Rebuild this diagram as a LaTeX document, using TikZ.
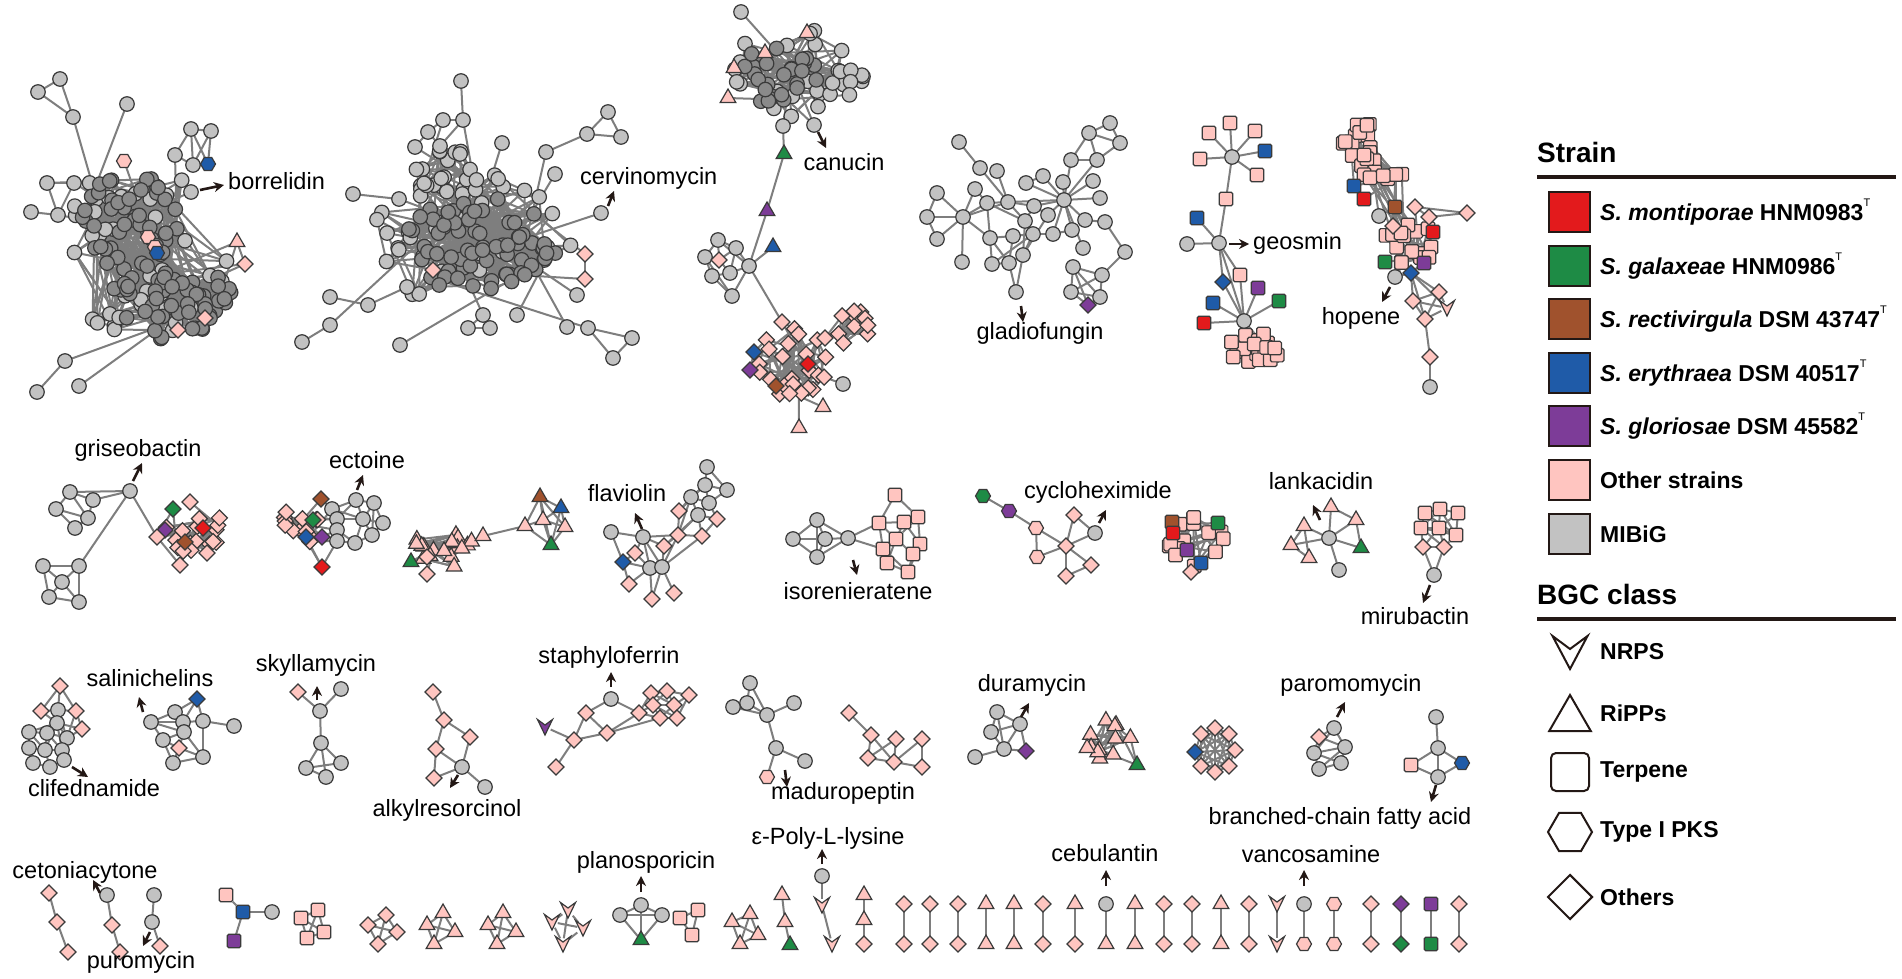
\documentclass[tikz,border=0pt]{standalone}
\usepackage{fontspec}
\setmainfont{Liberation Sans}
\usetikzlibrary{shapes.geometric,arrows.meta}
\pgfdeclarelayer{back}
\pgfdeclarelayer{bg}
\pgfsetlayers{back,bg,main}
\definecolor{pk}{HTML}{FFC5C0}
\definecolor{sred}{HTML}{E31A1C}
\definecolor{sgreen}{HTML}{1E8B45}
\definecolor{sbrown}{HTML}{A0522D}
\definecolor{sblue}{HTML}{1F5BA8}
\definecolor{spurple}{HTML}{7D3C98}
\definecolor{mib}{HTML}{C2C2C2}
\definecolor{mibd}{HTML}{8A8A8A}
\definecolor{edg}{HTML}{7E7E7E}
\definecolor{bord}{HTML}{3A3A3A}
\definecolor{ink}{HTML}{231815}
\newcommand\N[4]{\node[#1] (#2) at (#3,#4) {};}
\newcommand\EE[1]{\begin{pgfonlayer}{bg}\foreach \ea/\eb in {#1}{\draw[ed] (\ea) -- (\eb);}\end{pgfonlayer}}
\newcommand\AR[5]{\coordinate (#1s) at (#2,#3);\coordinate (#1e) at (#4,#5);\draw[arr] (#1s) -- (#1e);}
\newcommand\LB[5]{\node[lab,anchor=#4] (#1) at (#2,#3) {#5};}
\newcommand\NR[4]{\node[inner sep=0pt,minimum size=11pt] (#1) at (#2,#3) {};\filldraw[nd,fill=#4,shift={(#2,#3)}] (-7.5,-7.5) -- (0,-2) -- (7.5,-7.5) -- (0,8) -- cycle;}
\newcommand\blob[9]{%
\pgfmathsetseed{#9}%
\foreach \i in {1,...,#6}{%
\pgfmathsetmacro\blang{rnd*360}%
\pgfmathsetmacro\blrad{sqrt(rnd)}%
\node[#7] (#1\i) at ({#2+#4*\blrad*cos(\blang)},{#3+#5*\blrad*sin(\blang)}) {};%
}%
\begin{pgfonlayer}{bg}%
\foreach \i in {1,...,#6}{%
\foreach \k in {1,...,#8}{%
\pgfmathtruncatemacro\blj{random(1,#6)}%
\ifnum\blj=\i\relax\else\draw[ed] (#1\i) -- (#1\blj);\fi
}%
}%
\end{pgfonlayer}%
}
\newcommand\xl[6]{%
\pgfmathsetseed{#6}%
\begin{pgfonlayer}{bg}%
\foreach \k in {1,...,#5}{%
\pgfmathtruncatemacro\xla{random(1,#2)}%
\pgfmathtruncatemacro\xlb{random(1,#4)}%
\draw[ed] (#1\xla) -- (#3\xlb);%
}%
\end{pgfonlayer}%
}
\newcommand\supT{\raisebox{0.6em}{\fontsize{11}{11}\selectfont\mdseries T}}
\begin{document}
\begin{tikzpicture}[x=1pt,y=-1pt,
 ed/.style={draw=edg,line width=2pt},
 nd/.style={draw=bord,line width=1.2pt,inner sep=0pt,outer sep=0pt},
 mb/.style={nd,circle,minimum size=14.5pt,fill=mib},
 mbd/.style={nd,circle,minimum size=14.5pt,fill=mibd},
 dm/.style={nd,diamond,minimum size=16pt,fill=#1}, dm/.default=pk,
 sq/.style={nd,rectangle,rounded corners=1.5pt,minimum size=13.5pt,fill=#1}, sq/.default=pk,
 tr/.style={nd,regular polygon,regular polygon sides=3,minimum size=18pt,fill=#1}, tr/.default=pk,
 hx/.style={nd,regular polygon,regular polygon sides=6,minimum size=15pt,fill=#1}, hx/.default=pk,
 lab/.style={font=\fontsize{23.5}{25}\selectfont,inner sep=0pt,text height=17pt,text depth=5pt},
 arr/.style={draw=ink,line width=2.6pt,-{Stealth[length=10pt,width=10pt]}},
 lgt/.style={font=\bfseries\fontsize{23}{25}\selectfont,inner sep=0pt,anchor=west},
 lgh/.style={font=\bfseries\fontsize{28}{30}\selectfont,inner sep=0pt,anchor=west},
 lsq/.style={draw=ink,line width=2pt,minimum width=41pt,minimum height=40pt,inner sep=0pt,fill=#1},
 lsh/.style={draw=ink,line width=2pt,fill=white,inner sep=0pt}
]
\begin{pgfonlayer}{back}
\fill[white] (0,0) rectangle (1902,979);
\end{pgfonlayer}
\useasboundingbox (0,0) rectangle (1902,979);

% ===== borrelidin =====
\blob{Ao}{140}{258}{95}{92}{45}{mb}{2}{11}
\blob{Aa}{130}{222}{48}{50}{45}{mbd}{3}{12}
\blob{Ab}{172}{302}{62}{38}{50}{mbd}{3}{13}
\xl{Ao}{45}{Aa}{45}{40}{14}
\xl{Ao}{45}{Ab}{50}{40}{15}
\xl{Aa}{45}{Ab}{50}{40}{16}
\N{mb}{A1}{60}{79}\N{mb}{A2}{38}{92}\N{mb}{A3}{73}{117}
\N{mb}{A4}{127}{104}
\N{mb}{A5}{191}{129}\N{mb}{A6}{211}{131}\N{mb}{A7}{175}{155}\N{mb}{A8}{193}{165}\N{hx=sblue}{A9}{208}{164}
\N{mb}{A10}{191}{192}
\N{tr}{A11}{237}{242}\N{dm}{A12}{245}{264}
\N{mb}{A13}{65}{361}\N{mb}{A14}{37}{392}\N{mb}{A15}{79}{386}
\N{mb}{A16}{47}{183}\N{mb}{A17}{74}{183}\N{mb}{A18}{31}{212}\N{mb}{A19}{58}{215}
\N{hx}{A20}{124}{161}\N{hx}{A21}{148}{237}\N{hx}{A22}{155}{247}\N{hx=sblue}{A23}{157}{253}\N{dm}{A24}{205}{318}\N{dm}{A25}{178}{330}
\EE{A1/A2,A2/A3,A1/A3,A3/Aa1,A4/Aa2,A5/A6,A5/A7,A5/A8,A6/A8,A6/A9,A7/A8,A8/A9,A5/A9,A7/Aa3,A10/Aa4,A11/A12,A11/Ab1,A12/Ab2,A13/A14,A13/Ab3,A15/Ab4,A16/A17,A16/A19,A17/A19,A18/A19,A17/Aa5,A19/Aa6,A16/Aa7,A20/Aa8,A21/Aa9,A22/Ab5,A23/Ab6,A24/Ab7,A25/Ab8,A11/Ab9,A12/Ab10}
\AR{ara}{200}{190}{224}{185}
\LB{lborr}{228}{183}{west}{borrelidin}

% ===== cervinomycin =====
\blob{Bo}{472}{242}{105}{70}{35}{mb}{2}{21}
\blob{Bc}{480}{245}{78}{48}{70}{mbd}{3}{22}
\blob{Bu}{447}{178}{32}{32}{18}{mb}{3}{23}
\xl{Bo}{35}{Bc}{70}{40}{24}
\xl{Bu}{18}{Bc}{70}{20}{25}
\N{mb}{B1}{461}{81}\N{mb}{B2}{443}{120}\N{mb}{B3}{463}{120}\N{mb}{B4}{428}{132}\N{mb}{B5}{415}{147}\N{mb}{B6}{440}{146}\N{mb}{B7}{460}{154}\N{mb}{B8}{502}{143}
\N{mb}{B9}{608}{112}\N{mb}{B10}{587}{134}\N{mb}{B11}{621}{137}\N{mb}{B12}{546}{152}\N{mb}{B13}{555}{174}\N{mb}{B14}{601}{213}
\N{mb}{B15}{353}{194}\N{mb}{B16}{399}{199}
\N{mb}{B17}{330}{297}\N{mb}{B18}{368}{305}\N{mb}{B19}{330}{325}\N{mb}{B20}{302}{342}\N{mb}{B21}{407}{287}
\N{mb}{B22}{400}{345}\N{mb}{B23}{468}{328}\N{mb}{B24}{490}{328}\N{mb}{B25}{483}{315}\N{mb}{B26}{517}{315}
\N{mb}{B27}{567}{327}\N{mb}{B28}{588}{328}\N{mb}{B29}{632}{338}\N{mb}{B30}{613}{358}\N{mb}{B31}{577}{295}
\N{dm}{B32}{433}{270}\N{dm}{B33}{585}{254}\N{dm}{B34}{585}{279}
\EE{B1/B3,B2/B3,B2/B4,B3/B6,B4/B5,B4/B6,B5/Bu1,B6/B7,B7/Bu2,B3/Bu3,B2/Bu4,B8/Bc1,B9/B10,B10/B11,B9/B11,B10/B12,B12/Bc2,B13/Bc3,B14/Bc4,B15/B16,B16/Bc5,B17/B18,B18/B21,B21/Bc6,B20/B19,B19/Bo1,B22/Bc7,B23/B24,B23/B25,B24/B25,B25/Bc8,B26/Bc9,B27/Bc10,B28/B29,B29/B30,B28/B30,B28/Bc11,B31/Bc12,B32/Bc13,B33/B34,B33/Bc14,B34/Bc15}
\AR{arb}{608}{206}{614}{191}
\LB{lcerv}{580}{178}{west}{cervinomycin}

% ===== canucin =====
\blob{Cu}{795}{70}{65}{48}{22}{mb}{2}{31}
\blob{Ct}{778}{76}{40}{30}{25}{mbd}{3}{32}
\blob{Cr}{848}{83}{18}{14}{9}{mb}{3}{33}
\xl{Cu}{22}{Ct}{25}{30}{34}
\xl{Cr}{9}{Ct}{25}{14}{35}
\N{mb}{C1}{741}{12}\N{tr}{C2}{807}{33}\N{tr}{C3}{765}{53}\N{tr}{C4}{734}{68}\N{tr}{C5}{728}{98}
\N{mb}{C11}{783}{126}\N{mb}{C12}{814}{125}
\N{tr=sgreen}{C13}{784}{154}\N{tr=spurple}{C14}{767}{211}\N{tr=sblue}{C15}{773}{247}\N{mb}{C16}{749}{266}
\N{mb}{C17}{718}{240}\N{mb}{C18}{736}{248}\N{mb}{C19}{705}{257}\N{dm}{C20}{719}{260}\N{mb}{C21}{712}{276}\N{mb}{C22}{730}{273}\N{mb}{C23}{732}{296}
\EE{C1/Cu1,C2/Cu2,C2/Ct1,C3/Ct2,C4/Ct3,C5/Ct4,C11/Ct5,C12/Ct6,C12/Cu3,C11/C13,C13/C14,C14/C16,C15/C16,C16/C17,C16/C18,C16/C22,C16/C23,C17/C18,C17/C19,C17/C20,C18/C20,C18/C22,C19/C20,C19/C21,C20/C22,C21/C22,C21/C23,C19/C23}
\blob{Cd}{790}{362}{38}{40}{24}{dm}{3}{36}
\blob{Ce}{855}{330}{20}{20}{10}{dm}{4}{37}
\N{dm=sblue}{C24}{754}{352}\N{dm=spurple}{C25}{750}{370}\N{dm=sbrown}{C26}{776}{386}\N{dm=sred}{C27}{808}{364}
\N{mb}{C28}{843}{384}\N{tr}{C29}{823}{407}\N{tr}{C30}{799}{428}\N{dm}{C31}{782}{322}\N{dm}{C32}{825}{338}
\EE{C16/C31,C31/Cd1,C31/Cd2,C24/Cd3,C25/Cd4,C26/Cd5,C27/Cd6,C27/Cd7,C28/Cd8,C29/Cd9,C30/Cd10,C32/Ce1,C32/Ce2,C32/Cd11,C32/Cd12,C24/Cd13,C26/Cd14,C25/C24}
\AR{arc}{818}{132}{826}{148}
\LB{lcanu}{844}{164}{center}{canucin}

% ===== gladiofungin =====
\N{mb}{D1}{959}{142}\N{mb}{D2}{980}{168}\N{mb}{D3}{997}{171}\N{mb}{D4}{937}{193}\N{mb}{D5}{927}{217}\N{mb}{D6}{937}{239}
\N{mb}{D7}{963}{217}\N{mb}{D8}{975}{189}\N{mb}{D9}{987}{203}\N{mb}{D10}{1008}{202}\N{mb}{D11}{1026}{183}\N{mb}{D12}{1043}{176}
\N{mb}{D13}{1063}{182}\N{mb}{D14}{1093}{181}\N{mb}{D15}{1100}{198}\N{mb}{D16}{1064}{200}\N{mb}{D17}{1089}{133}\N{mb}{D18}{1110}{123}
\N{mb}{D19}{1120}{143}\N{mb}{D20}{1071}{160}\N{mb}{D21}{1097}{160}\N{mb}{D22}{1034}{206}\N{mb}{D23}{1048}{215}\N{mb}{D24}{1025}{221}
\N{mb}{D25}{1013}{236}\N{mb}{D26}{1033}{234}\N{mb}{D27}{1053}{234}\N{mb}{D28}{1072}{230}\N{mb}{D29}{1085}{220}\N{mb}{D30}{1105}{222}
\N{mb}{D31}{1125}{252}\N{mb}{D32}{1083}{248}\N{mb}{D33}{990}{238}\N{mb}{D34}{962}{262}\N{mb}{D35}{992}{264}\N{mb}{D36}{1009}{263}
\N{mb}{D37}{1023}{255}\N{mb}{D38}{1016}{292}\N{mb}{D39}{1073}{267}\N{mb}{D40}{1102}{275}\N{mb}{D41}{1071}{292}\N{mb}{D42}{1100}{297}\N{dm=spurple}{D43}{1088}{305}
\EE{D1/D2,D2/D10,D3/D10,D4/D5,D5/D6,D4/D7,D5/D7,D6/D7,D7/D8,D7/D9,D7/D10,D7/D33,D7/D34,D9/D10,D10/D22,D10/D16,D11/D16,D12/D16,D13/D16,D14/D16,D15/D16,D20/D16,D21/D16,D22/D16,D23/D16,D28/D16,D29/D16,D17/D18,D17/D19,D18/D19,D17/D20,D20/D21,D21/D19,D17/D21,D9/D33,D33/D35,D33/D36,D33/D25,D24/D26,D24/D10,D25/D26,D26/D27,D26/D37,D27/D28,D22/D23,D22/D24,D23/D37,D36/D37,D35/D36,D36/D38,D38/D37,D27/D16,D29/D30,D30/D31,D31/D40,D32/D16,D39/D40,D39/D41,D39/D42,D40/D41,D40/D42,D41/D42,D41/D43,D42/D43,D39/D43,D35/D26,D24/D9,D8/D9,D11/D12,D24/D37,D25/D36}
\AR{ard}{1021}{306}{1023}{322}
\LB{lglad}{1040}{333}{center}{gladiofungin}

% ===== geosmin =====
\N{mb}{E1}{1232}{157}\N{sq}{E2}{1230}{123}\N{sq}{E3}{1209}{133}\N{sq}{E4}{1255}{131}\N{sq}{E5}{1200}{159}\N{sq=sblue}{E6}{1265}{151}\N{sq}{E7}{1257}{175}
\N{sq}{E8}{1226}{199}\N{mb}{E9}{1219}{243}\N{mb}{E10}{1187}{244}\N{sq=sblue}{E11}{1197}{218}\N{sq}{E12}{1240}{275}\N{dm=sblue}{E13}{1223}{282}
\N{sq=spurple}{E14}{1258}{288}\N{sq=sgreen}{E15}{1279}{301}\N{sq=sblue}{E16}{1213}{303}\N{sq=sred}{E17}{1204}{323}
\blob{Eb}{1254}{352}{26}{22}{20}{sq}{2}{51}
\N{mb}{E18}{1244}{321}
\EE{E1/E2,E1/E3,E1/E4,E1/E5,E1/E6,E1/E7,E1/E8,E8/E9,E9/E10,E9/E11,E9/E12,E9/E13,E9/E18,E12/E18,E13/E18,E14/E18,E15/E18,E16/E18,E17/E18,E18/Eb1,E18/Eb2,E18/Eb3,E18/Eb4}
\AR{are}{1229}{244}{1249}{244}
\LB{lgeos}{1253}{243}{west}{geosmin}

% ===== hopene =====
\blob{Fa}{1362}{140}{22}{20}{12}{sq}{3}{61}
\blob{Fb}{1380}{168}{24}{20}{12}{sq}{3}{62}
\xl{Fa}{12}{Fb}{12}{15}{63}
\blob{Fm}{1410}{243}{26}{22}{15}{sq}{3}{64}
\xl{Fb}{12}{Fm}{15}{12}{65}
\N{sq=sblue}{F1}{1354}{186}\N{sq=sred}{F2}{1364}{199}\N{sq=sbrown}{F3}{1395}{207}\N{mb}{F4}{1379}{216}
\N{sq=sred}{F5}{1433}{232}\N{sq=sgreen}{F6}{1385}{262}\N{sq=spurple}{F7}{1424}{263}\N{mb}{F8}{1395}{277}\N{dm=sblue}{F9}{1411}{273}
\N{dm}{F10}{1415}{207}\N{dm}{F11}{1429}{217}\N{dm}{F12}{1467}{213}\N{dm}{F13}{1393}{226}
\N{dm}{F14}{1413}{301}\N{dm}{F15}{1439}{292}\N{dm}{F16}{1425}{319}\NR{F17}{1447}{308}{pk}\N{dm}{F18}{1430}{357}\N{mb}{F19}{1430}{387}
\EE{F1/Fb1,F1/Fa1,F2/Fb2,F3/Fb3,F3/Fm1,F4/F3,F4/Fb4,F10/F11,F10/F12,F11/F12,F10/Fm2,F11/Fm3,F13/Fm4,F5/Fm5,F6/Fm6,F7/Fm7,F8/Fm8,F8/F9,F9/Fm9,F9/F14,F9/F15,F9/F16,F9/F17,F14/F15,F14/F16,F14/F17,F15/F16,F15/F17,F16/F17,F16/F18,F18/F19,F3/Fm10}
\AR{arf}{1390}{287}{1382}{302}
\LB{lhope}{1361}{318}{center}{hopene}

% ===== griseobactin =====
\N{mb}{G1}{130}{491}\N{mb}{G2}{70}{492}\N{mb}{G3}{93}{500}\N{mb}{G4}{56}{509}\N{mb}{G5}{88}{518}\N{mb}{G6}{75}{528}
\N{mb}{G7}{43}{566}\N{mb}{G8}{79}{566}\N{mb}{G9}{62}{582}\N{mb}{G10}{49}{597}\N{mb}{G11}{79}{602}
\blob{Gd}{195}{532}{30}{27}{16}{dm}{4}{71}
\N{dm=sgreen}{G13}{173}{509}\N{dm=spurple}{G14}{165}{530}\N{dm=sbrown}{G15}{185}{542}\N{dm=sred}{G16}{203}{528}
\N{dm}{G17}{180}{565}\N{dm}{G18}{207}{553}\N{dm}{G19}{157}{537}\N{dm}{G20}{190}{502}
\EE{G2/G3,G2/G4,G2/G5,G3/G5,G4/G6,G5/G6,G4/G5,G3/G1,G2/G1,G1/G8,G7/G8,G7/G9,G7/G10,G8/G9,G8/G11,G9/G10,G9/G11,G10/G11,G1/G19,G13/Gd1,G14/Gd2,G15/Gd3,G16/Gd4,G17/Gd5,G18/Gd6,G19/Gd7,G20/Gd8,G13/G19,G17/G19,G18/G16}
\AR{arg}{133}{481}{142}{463}
\LB{lgris}{138}{450}{center}{griseobactin}

% ===== ectoine =====
\blob{Ed}{298}{522}{22}{25}{12}{dm}{3}{72}
\N{dm=sbrown}{H1}{321}{499}\N{dm=sgreen}{H2}{313}{520}\N{dm=sblue}{H3}{306}{537}\N{dm=spurple}{H4}{322}{537}\N{dm=sred}{H5}{322}{567}
\N{mb}{H6}{332}{509}\N{mb}{H7}{356}{500}\N{mb}{H8}{374}{503}\N{mb}{H9}{337}{519}\N{mb}{H10}{363}{519}\N{mb}{H11}{383}{523}
\N{mb}{H12}{337}{530}\N{mb}{H13}{355}{543}\N{mb}{H14}{372}{535}\N{mb}{H15}{337}{541}
\EE{H6/H7,H7/H8,H7/H9,H7/H10,H8/H10,H8/H11,H9/H10,H10/H11,H10/H13,H10/H14,H11/H14,H12/H13,H13/H14,H9/H12,H12/H15,H15/H13,H6/H9,H6/H10,H8/H14,H6/Ed1,H9/Ed2,H12/Ed3,H15/Ed4,H5/Ed5,H5/H3,H5/H15,H1/Ed6,H2/Ed7,H3/Ed8,H4/Ed9,H4/H12,H1/H6,H2/H9}
\AR{arh}{357}{490}{363}{475}
\LB{lecto}{367}{462}{center}{ectoine}

% ===== triangles =====
\blob{It}{444}{550}{32}{20}{18}{tr}{3}{73}
\N{tr=sgreen}{I1}{411}{562}\N{dm}{I2}{427}{557}\N{dm}{I3}{427}{574}\N{tr}{I4}{483}{536}\N{tr}{I5}{525}{526}
\N{tr=sbrown}{I6}{540}{497}\N{tr=sblue}{I7}{561}{508}\N{tr}{I8}{543}{520}\N{tr}{I9}{565}{527}\N{tr=sgreen}{I10}{551}{545}
\EE{I1/It1,I2/It2,I3/It3,I1/It4,I4/It5,I4/It6,I4/I5,I5/I6,I5/I8,I5/I10,I6/I7,I6/I8,I6/I9,I6/I10,I7/I8,I7/I9,I7/I10,I8/I9,I8/I10,I9/I10}

% ===== flaviolin =====
\N{mb}{J1}{611}{532}\N{mb}{J2}{643}{537}\N{dm=sblue}{J3}{623}{562}\N{dm}{J4}{635}{553}\N{dm}{J5}{664}{546}\N{mb}{J6}{650}{568}\N{mb}{J7}{662}{567}
\N{dm}{J8}{629}{584}\N{dm}{J9}{652}{599}\N{dm}{J10}{674}{593}\N{dm}{J11}{678}{535}
\N{mb}{J12}{707}{467}\N{mb}{J13}{705}{485}\N{mb}{J14}{727}{490}\N{mb}{J15}{691}{497}\N{mb}{J16}{709}{503}\N{mb}{J17}{698}{515}
\N{dm}{J18}{679}{511}\N{dm}{J19}{717}{519}\N{dm}{J20}{702}{536}
\EE{J1/J2,J1/J3,J3/J4,J3/J6,J2/J4,J2/J5,J2/J6,J2/J7,J2/J11,J4/J6,J5/J7,J5/J11,J6/J7,J6/J8,J6/J9,J7/J9,J7/J10,J7/J11,J3/J8,J11/J18,J11/J20,J11/J17,J11/J15,J12/J13,J12/J14,J13/J14,J13/J15,J13/J16,J14/J16,J15/J16,J15/J17,J16/J17,J16/J19,J17/J19,J17/J20,J18/J15,J19/J20,J18/J13,J7/J20,J5/J17}
\AR{arj}{642}{529}{635}{513}
\LB{lflav}{627}{495}{center}{flaviolin}

% ===== isorenieratene =====
\N{mb}{K1}{793}{539}\N{mb}{K2}{817}{520}\N{mb}{K3}{825}{539}\N{mb}{K4}{817}{557}\N{mb}{K5}{848}{538}
\N{sq}{K6}{895}{495}\N{sq}{K7}{879}{523}\N{sq}{K8}{904}{522}\N{sq}{K9}{918}{517}\N{sq}{K10}{896}{539}
\N{sq}{K11}{920}{544}\N{sq}{K12}{883}{549}\N{sq}{K13}{913}{554}\N{sq}{K14}{887}{563}\N{sq}{K15}{908}{572}
\EE{K1/K2,K1/K3,K1/K4,K2/K3,K3/K4,K2/K5,K3/K5,K4/K5,K2/K4,K5/K7,K5/K12,K6/K7,K6/K9,K7/K8,K7/K10,K7/K12,K8/K9,K8/K10,K8/K11,K9/K11,K10/K13,K10/K14,K11/K13,K12/K14,K13/K15,K14/K15,K12/K15,K11/K15,K10/K12,K9/K10}
\AR{ark}{853}{560}{857}{575}
\LB{liso}{858}{593}{center}{isorenieratene}

% ===== cycloheximide =====
\N{hx=sgreen}{L1}{983}{496}\N{hx=spurple}{L2}{1009}{511}\N{hx}{L3}{1036}{528}\N{hx}{L4}{1037}{557}\N{dm}{L5}{1066}{546}
\N{dm}{L6}{1074}{515}\N{mb}{L7}{1095}{533}\N{dm}{L8}{1091}{565}\N{dm}{L9}{1066}{576}
\EE{L1/L2,L2/L3,L3/L4,L3/L5,L4/L5,L5/L6,L6/L7,L5/L7,L5/L8,L5/L9,L8/L9}
\AR{arl}{1099}{523}{1106}{510}
\LB{lcyclo}{1098}{492}{center}{cycloheximide}

% ===== squares =====
\blob{Mb}{1197}{542}{30}{25}{14}{sq}{3}{74}
\N{sq=sbrown}{M1}{1172}{522}\N{sq=sgreen}{M2}{1218}{523}\N{sq=sred}{M3}{1173}{533}\N{sq=spurple}{M4}{1187}{550}\N{sq=sblue}{M5}{1201}{563}\N{dm}{M6}{1191}{572}
\EE{M1/Mb1,M2/Mb2,M3/Mb3,M4/Mb4,M5/Mb5,M6/Mb6,M6/M5,M1/M3}

% ===== lankacidin =====
\N{mb}{N1}{1329}{538}\N{tr}{N2}{1331}{507}\N{tr}{N3}{1356}{520}\N{tr}{N4}{1304}{526}\N{tr}{N5}{1291}{545}\N{tr}{N6}{1309}{558}\N{tr=sgreen}{N7}{1361}{548}\N{mb}{N8}{1339}{570}
\EE{N1/N2,N1/N3,N1/N4,N1/N5,N1/N7,N1/N8,N2/N3,N3/N7,N4/N5,N4/N6,N5/N6}
\AR{arn}{1320}{520}{1313}{505}
\LB{llank}{1321}{483}{center}{lankacidin}

% ===== mirubactin =====
\N{sq}{O1}{1425}{513}\N{sq}{O2}{1440}{509}\N{sq}{O3}{1458}{513}\N{sq}{O4}{1421}{528}\N{sq}{O5}{1439}{528}\N{sq}{O6}{1456}{535}
\N{dm}{O7}{1423}{547}\N{dm}{O8}{1444}{547}\N{mb}{O9}{1434}{575}
\EE{O1/O2,O2/O3,O1/O4,O2/O5,O3/O6,O4/O5,O5/O6,O1/O5,O2/O4,O2/O6,O3/O5,O4/O6,O1/O6,O4/O7,O5/O7,O5/O8,O6/O8,O7/O8,O7/O9,O8/O9,O4/O8}
\AR{aro}{1430}{585}{1423}{603}
\LB{lmiru}{1415}{618}{center}{mirubactin}

% ===== clifednamide =====
\N{dm}{P1}{60}{686}\N{dm}{P2}{41}{711}\N{dm}{P3}{76}{711}\N{dm}{P4}{82}{729}
\N{mb}{P5}{58}{710}\N{mb}{P6}{57}{723}\N{mb}{P7}{29}{732}\N{mb}{P8}{47}{733}\N{mb}{P9}{67}{738}\N{mb}{P10}{29}{748}
\N{mb}{P11}{45}{750}\N{mb}{P12}{62}{750}\N{mb}{P13}{33}{763}\N{mb}{P14}{50}{767}\N{mb}{P15}{64}{760}
\EE{P1/P2,P1/P3,P1/P5,P2/P5,P3/P5,P3/P4,P4/P9,P5/P6,P6/P7,P6/P8,P6/P9,P7/P8,P7/P10,P8/P9,P8/P11,P9/P12,P9/P15,P10/P11,P10/P13,P11/P12,P11/P14,P12/P15,P13/P14,P14/P15,P6/P12,P8/P12,P7/P11,P5/P8,P5/P9,P6/P11,P4/P6,P2/P6,P3/P9}
\AR{arp}{72}{767}{88}{777}
\LB{lclif}{94}{790}{center}{clifednamide}

% ===== salinichelins =====
\N{dm=sblue}{Q1}{197}{699}\N{mb}{Q2}{175}{712}\N{mb}{Q3}{151}{722}\N{mb}{Q4}{183}{722}\N{mb}{Q5}{203}{721}\N{mb}{Q6}{234}{726}
\N{mb}{Q7}{163}{740}\N{mb}{Q8}{184}{732}\N{dm}{Q9}{179}{748}\N{mb}{Q10}{203}{757}\N{mb}{Q11}{173}{763}
\EE{Q1/Q2,Q1/Q4,Q1/Q5,Q2/Q3,Q2/Q4,Q2/Q8,Q3/Q7,Q3/Q8,Q4/Q5,Q4/Q8,Q5/Q6,Q5/Q10,Q7/Q8,Q7/Q11,Q7/Q9,Q8/Q9,Q9/Q10,Q9/Q11,Q10/Q11,Q3/Q4,Q8/Q10}
\AR{arq}{143}{712}{139}{697}
\LB{lsali}{150}{680}{center}{salinichelins}

% ===== skyllamycin =====
\N{dm}{R1}{298}{692}\N{mb}{R2}{341}{689}\N{mb}{R3}{320}{711}\N{mb}{R4}{321}{743}\N{mb}{R5}{306}{768}\N{mb}{R6}{341}{763}\N{mb}{R7}{326}{777}
\EE{R1/R3,R2/R3,R3/R4,R4/R5,R4/R6,R5/R6,R4/R7,R5/R7}
\AR{arr}{317}{700}{317}{686}
\LB{lskyl}{316}{665}{center}{skyllamycin}

% ===== alkylresorcinol =====
\N{dm}{S1}{433}{692}\N{dm}{S2}{444}{720}\N{dm}{S3}{470}{737}\N{dm}{S4}{436}{749}\N{mb}{S5}{462}{767}\N{dm}{S6}{434}{778}\N{mb}{S7}{485}{787}
\EE{S1/S2,S2/S3,S2/S4,S3/S5,S4/S5,S4/S6,S6/S5,S5/S7}
\AR{ars}{458}{775}{450}{788}
\LB{lalky}{447}{810}{center}{alkylresorcinol}

% ===== staphyloferrin =====
\N{mb}{T1}{611}{699}\N{dm}{T2}{586}{713}\N{dm}{T3}{639}{713}\NR{T4}{545}{727}{spurple}\N{dm}{T5}{607}{733}\N{dm}{T6}{574}{740}\N{dm}{T7}{556}{767}
\N{dm}{T8}{651}{693}\N{dm}{T9}{667}{691}\N{dm}{T10}{689}{695}\N{dm}{T11}{653}{705}\N{dm}{T12}{674}{705}\N{dm}{T13}{660}{718}\N{dm}{T14}{677}{718}
\EE{T1/T2,T1/T3,T2/T6,T2/T5,T3/T5,T3/T8,T3/T11,T3/T13,T4/T6,T6/T5,T6/T7,T5/T13,T8/T9,T9/T10,T8/T11,T9/T12,T10/T12,T11/T12,T11/T13,T12/T14,T13/T14,T10/T14,T8/T12,T9/T11,T11/T14,T12/T13}
\AR{art}{611}{687}{611}{672}
\LB{lstap}{609}{657}{center}{staphyloferrin}

% ===== maduropeptin =====
\N{mb}{U1}{750}{683}\N{mb}{U2}{747}{703}\N{mb}{U3}{733}{707}\N{mb}{U4}{767}{715}\N{mb}{U5}{794}{703}\N{mb}{U6}{776}{748}\N{mb}{U7}{805}{761}\N{hx}{U8}{767}{777}
\EE{U1/U2,U1/U4,U2/U4,U3/U4,U3/U2,U4/U5,U4/U6,U6/U7,U6/U8}
\AR{aru}{785}{770}{787}{787}
\LB{lmadu}{843}{793}{center}{maduropeptin}
\N{dm}{V1}{849}{713}\N{dm}{V2}{871}{735}\N{dm}{V3}{896}{739}\N{dm}{V4}{922}{739}\N{dm}{V5}{868}{758}\N{dm}{V6}{894}{762}\N{dm}{V7}{922}{767}
\EE{V1/V2,V2/V5,V3/V5,V3/V6,V4/V7,V4/V6,V5/V6,V6/V7,V2/V6}

% ===== duramycin =====
\N{mb}{W1}{997}{712}\N{mb}{W2}{1020}{724}\N{mb}{W3}{991}{732}\N{mb}{W4}{1004}{749}\N{mb}{W5}{975}{757}\N{dm=spurple}{W6}{1026}{751}
\EE{W1/W2,W1/W3,W2/W3,W2/W4,W2/W6,W3/W4,W4/W5,W4/W6,W1/W4}
\AR{arw}{1021}{717}{1029}{703}
\LB{ldura}{1032}{685}{center}{duramycin}

\blob{X}{1110}{742}{24}{22}{12}{tr}{4}{81}
\N{tr=sgreen}{XG}{1137}{765}
\EE{XG/X1,XG/X2,XG/X3}
\N{dm}{Y1}{1235}{750}\N{dm}{Y2}{1229}{766}\N{dm}{Y3}{1215}{772}\N{dm}{Y4}{1201}{766}\N{dm=sblue}{Y5}{1195}{752}\N{dm}{Y6}{1201}{734}\N{dm}{Y7}{1215}{728}\N{dm}{Y8}{1229}{734}
\begin{pgfonlayer}{bg}\foreach \i in {1,...,8}{\foreach \j in {1,...,8}{\ifnum\j>\i\relax\draw[ed] (Y\i) -- (Y\j);\fi}}\end{pgfonlayer}

% ===== paromomycin =====
\N{mb}{Z1}{1334}{728}\N{dm}{Z2}{1319}{737}\N{mb}{Z3}{1345}{747}\N{mb}{Z4}{1314}{753}\N{mb}{Z5}{1341}{763}\N{mb}{Z6}{1319}{769}
\EE{Z1/Z2,Z1/Z3,Z1/Z4,Z2/Z4,Z3/Z4,Z3/Z5,Z4/Z5,Z4/Z6,Z5/Z6,Z2/Z3,Z3/Z6}
\AR{arz}{1337}{717}{1345}{702}
\LB{lparo}{1351}{685}{center}{paromomycin}
\N{mb}{BA1}{1436}{717}\N{mb}{BA2}{1438}{748}\N{mb}{BA3}{1438}{777}\N{sq}{BA4}{1411}{765}\N{hx=sblue}{BA5}{1462}{763}
\EE{BA1/BA2,BA2/BA3,BA2/BA4,BA2/BA5,BA4/BA3,BA5/BA3}
\AR{arba}{1436}{785}{1431}{802}
\LB{lbran}{1340}{818}{center}{branched-chain fatty acid}

% ===== bottom row =====
\N{dm}{CA1}{49}{893}\N{dm}{CA2}{57}{922}\N{dm}{CA3}{68}{952}
\N{mb}{CB1}{107}{895}\N{dm}{CB2}{112}{925}\N{dm}{CB3}{120}{952}
\N{mb}{CC1}{154}{895}\N{mb}{CC2}{152}{922}\N{dm}{CC3}{160}{946}
\EE{CA1/CA2,CA2/CA3,CB1/CB2,CB2/CB3,CC1/CC2,CC2/CC3}
\AR{arcb}{100}{893}{93}{880}
\AR{arcc}{150}{932}{143}{946}
\LB{lceto}{85}{872}{center}{cetoniacytone}
\LB{lpuro}{141}{962}{center}{puromycin}
\N{sq}{RC1}{226}{895}\N{sq=sblue}{RC2}{243}{912}\N{mb}{RC3}{272}{912}\N{sq=spurple}{RC4}{234}{941}
\EE{RC1/RC2,RC2/RC3,RC2/RC4}
\N{sq}{RD1}{301}{918}\N{sq}{RD2}{318}{910}\N{sq}{RD3}{307}{938}\N{sq}{RD4}{324}{932}
\N{dm}{RE1}{368}{925}\N{dm}{RE2}{386}{915}\N{dm}{RE3}{397}{932}\N{dm}{RE4}{378}{944}
\N{tr}{RF1}{427}{925}\N{tr}{RF2}{443}{913}\N{tr}{RF3}{455}{932}\N{tr}{RF4}{434}{944}
\N{tr}{RH1}{488}{925}\N{tr}{RH2}{503}{913}\N{tr}{RH3}{516}{932}\N{tr}{RH4}{497}{944}
\NR{RI1}{552}{922}{pk}\NR{RI2}{568}{910}{pk}\NR{RI3}{583}{928}{pk}\NR{RI4}{563}{944}{pk}
\EE{RD1/RD2,RD1/RD3,RD1/RD4,RD2/RD3,RD2/RD4,RD3/RD4,RE1/RE2,RE1/RE3,RE1/RE4,RE2/RE3,RE2/RE4,RE3/RE4,RF1/RF2,RF1/RF3,RF1/RF4,RF2/RF3,RF2/RF4,RF3/RF4,RH1/RH2,RH1/RH3,RH1/RH4,RH2/RH3,RH2/RH4,RH3/RH4,RI1/RI2,RI1/RI3,RI1/RI4,RI2/RI3,RI2/RI4,RI3/RI4}
\N{mb}{RJ1}{620}{915}\N{mb}{RJ2}{641}{905}\N{mb}{RJ3}{662}{915}\N{tr=sgreen}{RJ4}{641}{940}
\EE{RJ1/RJ2,RJ2/RJ3,RJ1/RJ4,RJ3/RJ4,RJ1/RJ3,RJ2/RJ4}
\AR{arrj}{641}{892}{641}{876}
\LB{lplan}{646}{862}{center}{planosporicin}
\N{sq}{RK1}{680}{918}\N{sq}{RK2}{698}{910}\N{sq}{RK3}{692}{935}
\N{tr}{RL1}{732}{922}\N{tr}{RL2}{750}{914}\N{tr}{RL3}{758}{935}\N{tr}{RL4}{740}{944}
\N{tr}{RM1}{782}{895}\N{tr}{RM2}{785}{922}\N{tr=sgreen}{RM3}{790}{945}
\N{mb}{RN1}{822}{876}\NR{RN2}{822}{905}{pk}\NR{RN3}{832}{944}{pk}
\N{tr}{RO1}{864}{895}\N{tr}{RO2}{864}{920}\N{dm}{RO3}{864}{944}
\EE{RK1/RK2,RK2/RK3,RK1/RK3,RL1/RL2,RL1/RL3,RL1/RL4,RL2/RL3,RL2/RL4,RL3/RL4,RM1/RM2,RM2/RM3,RN1/RN2,RN2/RN3,RO1/RO2,RO2/RO3}
\AR{arrn}{822}{864}{822}{849}
\LB{lpoly}{828}{838}{center}{ε-Poly-L-lysine}
% pairs
\N{dm}{PA1}{904}{904}\N{dm}{PB1}{904}{944}
\N{dm}{PA2}{930}{904}\N{dm}{PB2}{930}{944}
\N{dm}{PA3}{958}{904}\N{dm}{PB3}{958}{944}
\N{tr}{PA4}{986}{904}\N{tr}{PB4}{986}{944}
\N{tr}{PA5}{1014}{904}\N{tr}{PB5}{1014}{944}
\N{dm}{PA6}{1043}{904}\N{dm}{PB6}{1043}{944}
\N{tr}{PA7}{1075}{904}\N{dm}{PB7}{1075}{944}
\N{mb}{PA8}{1106}{904}\N{tr}{PB8}{1106}{944}
\N{tr}{PA9}{1135}{904}\N{tr}{PB9}{1135}{944}
\N{dm}{PA10}{1164}{904}\N{dm}{PB10}{1164}{944}
\N{dm}{PA11}{1192}{904}\N{dm}{PB11}{1192}{944}
\N{tr}{PA12}{1221}{904}\N{tr}{PB12}{1221}{944}
\N{dm}{PA13}{1249}{904}\N{dm}{PB13}{1249}{944}
\NR{PA14}{1277}{904}{pk}\NR{PB14}{1277}{944}{pk}
\N{mb}{PA15}{1304}{904}\N{hx}{PB15}{1304}{944}
\N{hx}{PA16}{1334}{904}\N{hx}{PB16}{1334}{944}
\N{dm}{PA17}{1371}{904}\N{dm}{PB17}{1371}{944}
\N{dm=spurple}{PA18}{1401}{904}\N{dm=sgreen}{PB18}{1401}{944}
\N{sq=spurple}{PA19}{1431}{904}\N{sq=sgreen}{PB19}{1431}{944}
\N{dm}{PA20}{1459}{904}\N{dm}{PB20}{1459}{944}
\begin{pgfonlayer}{bg}\foreach \i in {1,...,20}{\draw[ed] (PA\i) -- (PB\i);}\end{pgfonlayer}
\AR{arpa8}{1106}{886}{1106}{870}
\LB{lcebu}{1105}{855}{center}{cebulantin}
\AR{arpa15}{1304}{886}{1304}{870}
\LB{lvanc}{1311}{856}{center}{vancosamine}

% ===== legend =====
\node[lgh] (hStrain) at (1537,152) {Strain};
\coordinate (hl1a) at (1537,177); \coordinate (hl1b) at (1896,177);
\draw[ink,line width=4pt] (hl1a) -- (hl1b);
\node[lsq=sred] (ls1) at (1569,212) {};
\node[lsq=sgreen] (ls2) at (1569,266) {};
\node[lsq=sbrown] (ls3) at (1569,319) {};
\node[lsq=sblue] (ls4) at (1569,373) {};
\node[lsq=spurple] (ls5) at (1569,426) {};
\node[lsq=pk] (ls6) at (1569,480) {};
\node[lsq=mib] (ls7) at (1569,534) {};
\node[lgt] (lt1) at (1600,212) {\textit{S. montiporae} HNM0983\supT};
\node[lgt] (lt2) at (1600,266) {\textit{S. galaxeae} HNM0986\supT};
\node[lgt] (lt3) at (1600,319) {\textit{S. rectivirgula} DSM 43747\supT};
\node[lgt] (lt4) at (1600,373) {\textit{S. erythraea} DSM 40517\supT};
\node[lgt] (lt5) at (1600,426) {\textit{S. gloriosae} DSM 45582\supT};
\node[lgt] (lt6) at (1600,480) {Other strains};
\node[lgt] (lt7) at (1600,534) {MIBiG};
\node[lgh] (hBGC) at (1537,594) {BGC class};
\coordinate (hl2a) at (1537,619); \coordinate (hl2b) at (1896,619);
\draw[ink,line width=4pt] (hl2a) -- (hl2b);
\node (lgNR) at (1570,652) {};
\filldraw[draw=ink,line width=2pt,fill=white,shift={(1570,652)}] (-17.5,-16) -- (0,-3) -- (17.5,-16) -- (0,17) -- cycle;
\node[lsh,regular polygon,regular polygon sides=3,minimum size=48pt] (lgTR) at (1570,719) {};
\node[lsh,rectangle,rounded corners=5pt,minimum size=38pt] (lgSQ) at (1570,772) {};
\node[lsh,regular polygon,regular polygon sides=6,minimum size=44pt] (lgHX) at (1570,832) {};
\node[lsh,diamond,minimum size=45pt] (lgDM) at (1570,897) {};
\node[lgt] (lb1) at (1600,652) {NRPS};
\node[lgt] (lb2) at (1600,713) {RiPPs};
\node[lgt] (lb3) at (1600,772) {Terpene};
\node[lgt] (lb4) at (1600,832) {Type I PKS};
\node[lgt] (lb5) at (1600,897) {Others};
\end{tikzpicture}
\end{document}
